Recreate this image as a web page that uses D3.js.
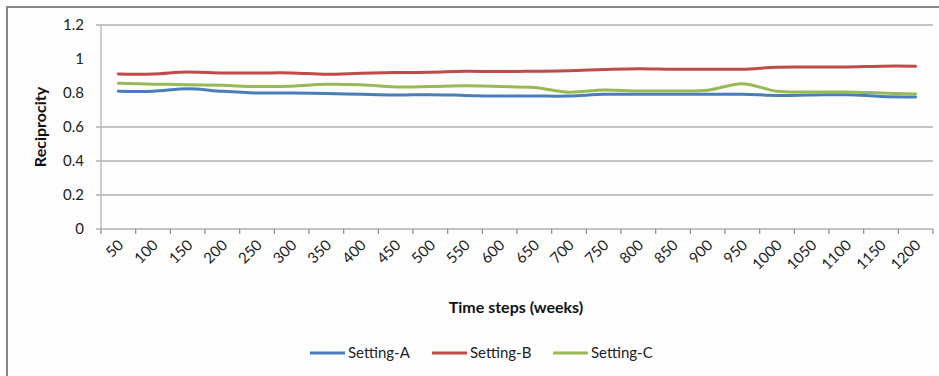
<!DOCTYPE html>
<html>
<head>
<meta charset="utf-8">
<script src="https://cdn.jsdelivr.net/npm/d3@7"></script>
<style>
  html, body { margin: 0; padding: 0; background: #fdfdfd; }
  svg { display: block; font-family: Lato, "Open Sans", sans-serif; }
</style>
</head>
<body>
<svg id="chart" width="939" height="376"></svg>
<script>
// Time steps in weeks
const categories = [50, 100, 150, 200, 250, 300, 350, 400, 450, 500, 550, 600,
  650, 700, 750, 800, 850, 900, 950, 1000, 1050, 1100, 1150, 1200];

// Reciprocity per setting
const settingA = [0.810, 0.810, 0.825, 0.810, 0.800, 0.800, 0.797, 0.792, 0.788, 0.790, 0.786, 0.782,
  0.782, 0.782, 0.792, 0.792, 0.792, 0.792, 0.792, 0.786, 0.788, 0.790, 0.780, 0.776];
const settingB = [0.912, 0.912, 0.924, 0.918, 0.918, 0.918, 0.910, 0.916, 0.920, 0.922, 0.928, 0.926,
  0.928, 0.931, 0.938, 0.943, 0.940, 0.940, 0.940, 0.952, 0.953, 0.953, 0.958, 0.958];
const settingC = [0.857, 0.852, 0.849, 0.845, 0.838, 0.840, 0.851, 0.848, 0.836, 0.838, 0.842, 0.838,
  0.832, 0.805, 0.818, 0.812, 0.812, 0.816, 0.855, 0.810, 0.806, 0.806, 0.800, 0.794];

const seriesNames = ["Setting-A", "Setting-B", "Setting-C"];
const seriesColors = ["#4a7ebb", "#be4b48", "#98b954"];
const yTicks = [0, 0.2, 0.4, 0.6, 0.8, 1, 1.2];
const gridValues = [0, 0.2, 0.4, 0.6, 1.2];

const series = [settingA, settingB, settingC];

const svg = d3.select("#chart");
const plot = { left: 101, right: 933, top: 25, bottom: 229 };

// Chart frame
svg.append("rect")
  .attr("x", 7).attr("y", 7)
  .attr("width", 1000).attr("height", 500)
  .attr("fill", "#fdfdfd")
  .attr("stroke", "#868686").attr("stroke-width", 2);

const x = d3.scaleBand().domain(categories).range([plot.left, plot.right]).padding(0);
const y = d3.scaleLinear().domain([0, 1.2]).range([plot.bottom, plot.top]);
const cx = d => x(d) + x.bandwidth() / 2;

// Horizontal gridlines
svg.append("g").selectAll("line").data(gridValues).join("line")
  .attr("x1", plot.left - 5).attr("x2", plot.right)
  .attr("y1", d => y(d)).attr("y2", d => y(d))
  .attr("stroke", "#8a8a8a").attr("stroke-width", 1.2);

// Y axis line
svg.append("line")
  .attr("x1", plot.left).attr("x2", plot.left)
  .attr("y1", plot.top).attr("y2", plot.bottom)
  .attr("stroke", "#b0b0b0").attr("stroke-width", 1.2);

// Y tick labels
svg.append("g").selectAll("text").data(yTicks).join("text")
  .attr("x", 84).attr("y", d => y(d))
  .attr("dy", "0.36em")
  .attr("text-anchor", "end")
  .attr("font-size", 15)
  .attr("fill", "#222")
  .text(d => d3.format("")(d));

// X axis with category boundary ticks
const boundaries = d3.range(categories.length + 1).map(i => plot.left + i * x.bandwidth());
svg.append("g").selectAll("line").data(boundaries).join("line")
  .attr("x1", d => d).attr("x2", d => d)
  .attr("y1", plot.bottom).attr("y2", plot.bottom + 5)
  .attr("stroke", "#8a8a8a").attr("stroke-width", 1.2);

// Rotated category labels
svg.append("g").selectAll("text").data(categories).join("text")
  .attr("transform", d => `translate(${cx(d) + 6},${plot.bottom + 17}) rotate(-45)`)
  .attr("text-anchor", "end")
  .attr("font-size", 15)
  .attr("fill", "#222")
  .text(d => d);

// Series lines
const line = d3.line()
  .x((d, i) => cx(categories[i]))
  .y(d => y(d))
  .curve(d3.curveCatmullRom.alpha(0.5));

svg.append("g").selectAll("path").data(series).join("path")
  .attr("d", d => line(d))
  .attr("fill", "none")
  .attr("stroke", (d, i) => seriesColors[i])
  .attr("stroke-width", 3)
  .attr("stroke-linecap", "round")
  .attr("stroke-linejoin", "round");

// Axis titles
svg.append("text")
  .attr("transform", "translate(46,127) rotate(-90)")
  .attr("text-anchor", "middle")
  .attr("font-size", 16).attr("font-weight", "bold")
  .attr("fill", "#111")
  .text("Reciprocity");

svg.append("text")
  .attr("x", 516).attr("y", 313)
  .attr("text-anchor", "middle")
  .attr("font-size", 16).attr("font-weight", "bold")
  .attr("fill", "#111")
  .text("Time steps (weeks)");

// Legend
const legendX = [310, 432, 553];
const legend = svg.append("g").selectAll("g").data(seriesNames).join("g")
  .attr("transform", (d, i) => `translate(${legendX[i]},353)`);
legend.append("line")
  .attr("x1", 0).attr("x2", 35)
  .attr("stroke", (d, i) => seriesColors[i]).attr("stroke-width", 3);
legend.append("text")
  .attr("x", 38).attr("dy", "0.36em")
  .attr("font-size", 15).attr("fill", "#222")
  .text(d => d);
</script>
</body>
</html>
